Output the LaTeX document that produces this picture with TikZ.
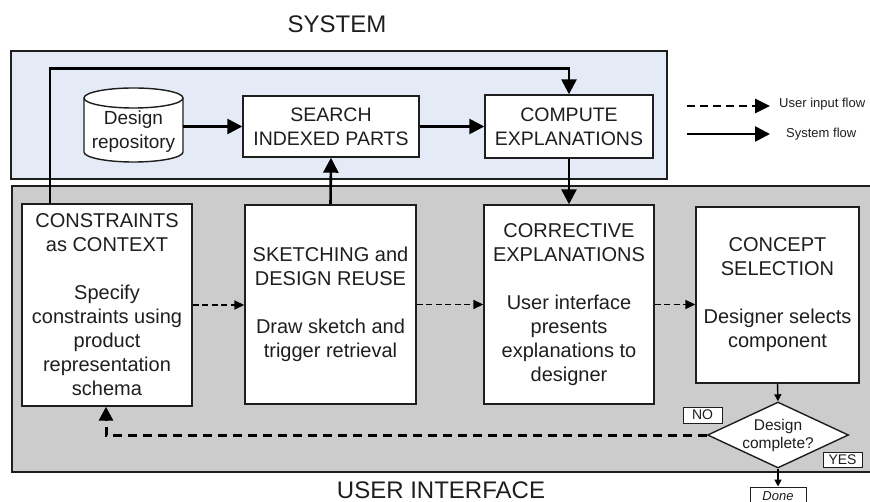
\documentclass[tikz,border=0pt]{standalone}
\usepackage{fontspec}
\setmainfont{Liberation Sans}
\usetikzlibrary{arrows.meta,shapes.geometric}
\definecolor{sysblue}{HTML}{E4EBF6}
\definecolor{uigray}{HTML}{CCCCCC}
\definecolor{ink}{HTML}{1E1E1E}
\begin{document}
\begin{tikzpicture}[x=1pt,y=-1pt,
  panel/.style={draw=ink, line width=1.3pt},
  box/.style={draw=ink, fill=white, line width=1.4pt, inner sep=0pt, align=center, text=ink, font=\fontsize{20}{24}\selectfont},
  sbox/.style={box, font=\fontsize{19.5}{24}\selectfont},
  plain/.style={inner sep=0pt, align=center, text=ink},
  sysarrow/.style={line width=2.6pt, draw=black, -{Triangle[length=15pt,width=15pt]}},
  uarrow/.style={line width=1.6pt, dash pattern=on 6pt off 3.5pt, -{Triangle[length=10pt,width=9pt]}},
  looparrow/.style={line width=3pt, dash pattern=on 9pt off 6pt, -{Triangle[length=14pt,width=14pt]}},
  legdash/.style={line width=2.6pt, dash pattern=on 8pt off 5pt, -{Triangle[length=15pt,width=14pt]}},
  thinarrow/.style={line width=1.4pt, -{Triangle[length=7pt,width=7pt]}},
  tag/.style={draw=ink, fill=white, line width=1pt, inner sep=0pt, text=ink, font=\fontsize{14}{14}\selectfont},
  title/.style={text=ink, inner sep=0pt, font=\fontsize{24}{24}\selectfont}
]
\clip (0,0) rectangle (870,502);
% panels
\draw[panel, fill=sysblue] (11,51) rectangle (667,179);
\draw[panel, fill=uigray] (12,186) rectangle (875,472);
% titles
\node[title] (tsys) at (337,24) {SYSTEM};
\node[title] (tui) at (441,490) {USER INTERFACE};
% repository cylinder
\node[plain, minimum width=99pt, minimum height=74pt] (repo) at (133.5,125) {};
\draw[draw=ink, fill=white, line width=1.4pt] (84,98) -- (84,152) arc[start angle=180, end angle=360, x radius=49.5pt, y radius=10pt] -- (183,98) arc[start angle=0, end angle=180, x radius=49.5pt, y radius=10pt] -- cycle;
\draw[draw=ink, line width=1.4pt] (84,98) arc[start angle=180, end angle=360, x radius=49.5pt, y radius=10pt];
\node[plain, font=\fontsize{19}{24}\selectfont] (repotext) at (133.5,132) {Design\\repository};
% system boxes
\node[sbox, minimum width=176pt, minimum height=61pt] (search) at (331,126.5) {SEARCH\\INDEXED PARTS};
\node[sbox, minimum width=168pt, minimum height=63pt] (compute) at (569,126.5) {COMPUTE\\EXPLANATIONS};
% UI boxes
\node[box, minimum width=170pt, minimum height=202pt] (cons) at (107,305) {CONSTRAINTS\\as CONTEXT\\[24pt]Specify\\constraints using\\product\\representation\\schema};
\node[box, minimum width=171pt, minimum height=199pt] (sketch) at (330.5,304.5) {SKETCHING and\\DESIGN REUSE\\[24pt]Draw sketch and\\trigger retrieval};
\node[box, minimum width=170pt, minimum height=199pt] (corr) at (569,304.5) {CORRECTIVE\\EXPLANATIONS\\[24pt]User interface\\presents\\explanations to\\designer};
\node[box, minimum width=163pt, minimum height=176pt] (concept) at (777.5,295) {CONCEPT\\SELECTION\\[24pt]Designer selects\\component};
% decision
\node[diamond, aspect=2.14, draw=ink, fill=white, line width=1.4pt, minimum width=141pt, minimum height=66pt, inner sep=0pt] (dc) at (778,435) {};
\node[plain, font=\fontsize{15.5}{18}\selectfont] (dctext) at (778,435) {Design\\complete?};
\node[tag, minimum width=39pt, minimum height=16pt] (no) at (702.5,415) {NO};
\node[tag, minimum width=39pt, minimum height=15pt] (yes) at (842.5,459.5) {YES};
\node[tag, minimum width=56pt, minimum height=18pt, font=\fontsize{13}{13}\selectfont\itshape] (done) at (778,496) {Done};
% system flow arrows
\draw[sysarrow] (repo.east |- search.west) -- (search.west);
\draw[sysarrow] (search.east) -- (compute.west);
\draw[sysarrow] (sketch.north) -- (search.south);
\draw[sysarrow] (compute.south) -- (corr.north);
\draw[sysarrow] ([xshift=-57pt]cons.north) -- ++(0,-135) -| (compute.north);
% user input flow arrows
\draw[uarrow] (cons.east) -- (cons.east -| sketch.west);
\draw[uarrow] (sketch.east) -- (sketch.east -| corr.west);
\draw[uarrow] (corr.east) -- (corr.east -| concept.west);
\draw[thinarrow] (concept.south) -- (dc.north);
\draw[thinarrow] (dc.south) -- (done.north);
\draw[looparrow] (dc.west) -| ([xshift=-1pt]cons.south);
% legend
\coordinate (l1a) at (687,106);
\coordinate (l1b) at (770,106);
\coordinate (l2a) at (687,134);
\coordinate (l2b) at (770,134);
\draw[legdash] (l1a) -- (l1b);
\draw[sysarrow] (l2a) -- (l2b);
\node[plain, anchor=west, font=\fontsize{13}{13}\selectfont] (l1t) at (779,104) {User input flow};
\node[plain, anchor=west, font=\fontsize{13}{13}\selectfont] (l2t) at (786,134) {System flow};
\end{tikzpicture}
\end{document}
